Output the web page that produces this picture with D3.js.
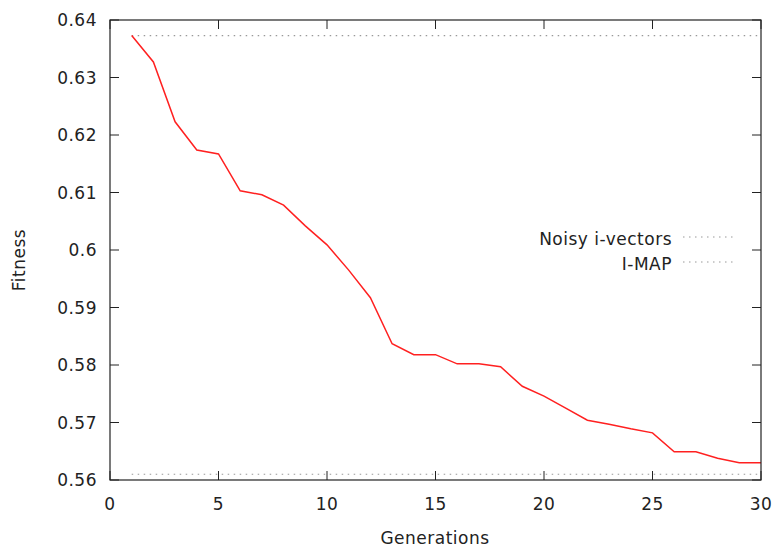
<!DOCTYPE html>
<html>
<head>
<meta charset="utf-8">
<script src="https://cdn.jsdelivr.net/npm/d3@7"></script>
<style>
  html, body { margin: 0; padding: 0; background: #fff; }
  svg { display: block; }
  text { font-family: "DejaVu Sans", sans-serif; fill: #222; letter-spacing: 0.5px; }
</style>
</head>
<body>
<svg id="chart" width="774" height="548"></svg>
<script>
const generations = d3.range(1, 31);
const fitness = [0.6373, 0.6327, 0.6223, 0.6174, 0.6167, 0.6103, 0.6096, 0.6078, 0.6042, 0.6009,
                 0.5965, 0.5917, 0.5837, 0.5818, 0.5818, 0.5802, 0.5802, 0.5797, 0.5763, 0.5746,
                 0.5725, 0.5704, 0.5697, 0.5689, 0.5682, 0.5649, 0.5649, 0.5638, 0.5630, 0.5630];
const refNames = ["Noisy i-vectors", "I-MAP"];
const refValues = [0.6373, 0.5610];
const xTicks = [0, 5, 10, 15, 20, 25, 30];
const yTicks = [0.56, 0.57, 0.58, 0.59, 0.60, 0.61, 0.62, 0.63, 0.64];

const svg = d3.select("#chart");
const L = 110, R = 761, T = 20, B = 480;
const x = d3.scaleLinear().domain([0, 30]).range([L, R]);
const y = d3.scaleLinear().domain([0.56, 0.64]).range([B, T]);
const fs = 17;

// reference lines
refValues.forEach(v => {
  svg.append("line")
    .attr("x1", x(1)).attr("x2", x(30))
    .attr("y1", y(v)).attr("y2", y(v))
    .attr("stroke", "#999").attr("stroke-width", 1.2)
    .attr("stroke-dasharray", "1.5,4.5");
});

// fitness line
const line = d3.line().x((d, i) => x(generations[i])).y(d => y(d));
svg.append("path").datum(fitness)
  .attr("d", line).attr("fill", "none")
  .attr("stroke", "#ff2020").attr("stroke-width", 1.5);

// ticks (inner, mirrored)
const tl = 9;
const tg = svg.append("g").attr("stroke", "#222").attr("stroke-width", 1);
xTicks.forEach(t => {
  tg.append("line").attr("x1", x(t)).attr("x2", x(t)).attr("y1", B).attr("y2", B - tl);
  tg.append("line").attr("x1", x(t)).attr("x2", x(t)).attr("y1", T).attr("y2", T + tl);
});
yTicks.forEach(t => {
  tg.append("line").attr("x1", L).attr("x2", L + tl).attr("y1", y(t)).attr("y2", y(t));
  tg.append("line").attr("x1", R).attr("x2", R - tl).attr("y1", y(t)).attr("y2", y(t));
});

// border
svg.append("rect").attr("x", L).attr("y", T).attr("width", R - L).attr("height", B - T)
  .attr("fill", "none").attr("stroke", "#222").attr("stroke-width", 1.2);

// tick labels
svg.append("g").selectAll("text").data(xTicks).join("text")
  .attr("x", d => x(d)).attr("y", 510)
  .attr("text-anchor", "middle").attr("font-size", fs)
  .text(d => d);
const yfmt = d => d3.format("")(+d.toFixed(2));
svg.append("g").selectAll("text").data(yTicks).join("text")
  .attr("x", 97).attr("y", d => y(d) + 6)
  .attr("text-anchor", "end").attr("font-size", fs)
  .text(d => yfmt(d));

// axis titles
svg.append("text").attr("x", 435).attr("y", 544)
  .attr("text-anchor", "middle").attr("font-size", fs).text("Generations");
svg.append("text").attr("transform", "translate(25,260) rotate(-90)")
  .attr("text-anchor", "middle").attr("font-size", fs).text("Fitness");

// legend
refNames.forEach((n, i) => {
  const ly = 237 + i * 25;
  svg.append("text").attr("x", 672).attr("y", ly + 8)
    .attr("text-anchor", "end").attr("font-size", fs).text(n);
  svg.append("line").attr("x1", 683).attr("x2", 734).attr("y1", ly).attr("y2", ly)
    .attr("stroke", "#999").attr("stroke-width", 1.2)
    .attr("stroke-dasharray", "1.5,4.5");
});
</script>
</body>
</html>
